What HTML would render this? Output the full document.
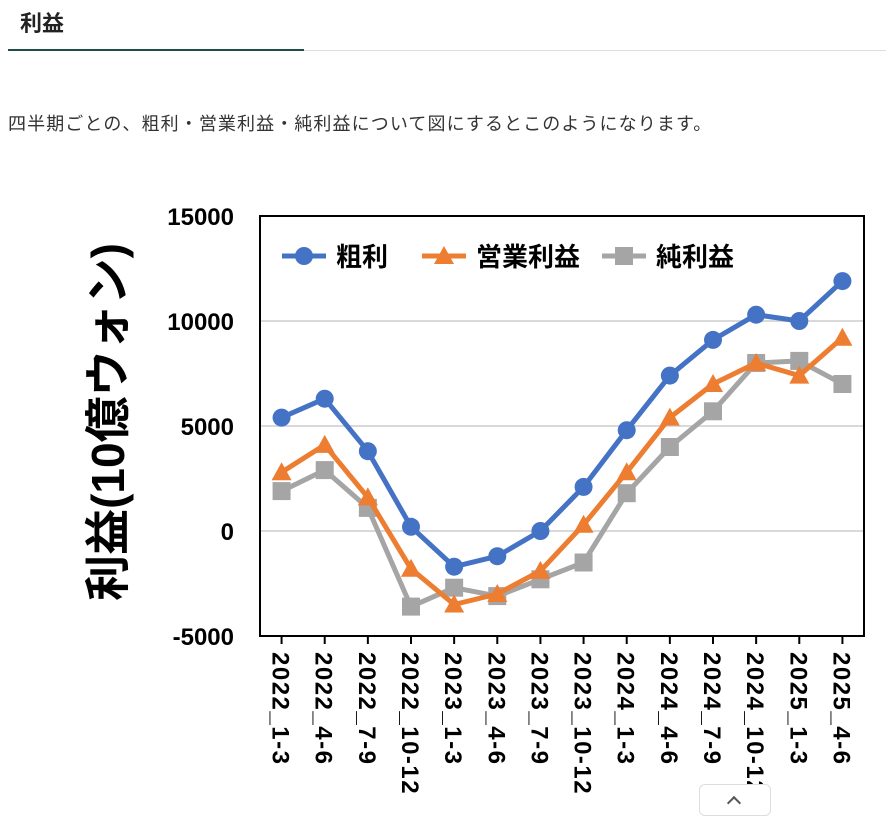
<!DOCTYPE html>
<html><head><meta charset="utf-8">
<style>
body{margin:0;width:886px;height:805px;overflow:hidden;background:#fff;font-family:"Liberation Sans","Noto Sans CJK JP",sans-serif;position:relative}
.h{position:absolute;left:20px;top:6px;font-size:22px;font-weight:bold;color:#222}
.ul{position:absolute;left:8px;top:49px;width:296px;height:2px;background:#1f4e4a}
.gl{position:absolute;left:304px;top:50px;width:582px;height:1px;background:#ddd}
.p{position:absolute;left:8px;top:110px;font-size:18px;letter-spacing:1.1px;color:#333}
.btn{position:absolute;left:699px;top:784px;width:70px;height:30px;border:1px solid #ddd;border-radius:6px;background:#fff}
</style></head><body>
<div class="h">利益</div>
<div class="ul"></div>
<div class="gl"></div>
<div class="p">四半期ごとの、粗利・営業利益・純利益について図にするとこのようになります。</div>
<svg id="chart" width="886" height="805" style="position:absolute;left:0;top:0"></svg>
<div class="btn"><div style="position:absolute;left:29px;top:13px;width:8px;height:8px;border-left:2px solid #555;border-top:2px solid #555;transform:rotate(45deg)"></div></div>
<script>
const categories=["2022_1-3","2022_4-6","2022_7-9","2022_10-12","2023_1-3","2023_4-6","2023_7-9","2023_10-12","2024_1-3","2024_4-6","2024_7-9","2024_10-12","2025_1-3","2025_4-6"];
const grossProfit=[5400,6300,3800,200,-1700,-1200,0,2100,4800,7400,9100,10300,10000,11900];
const operatingProfit=[2800,4100,1600,-1800,-3500,-3000,-1900,300,2800,5400,7000,8000,7400,9200];
const netProfit=[1900,2900,1100,-3600,-2700,-3100,-2300,-1500,1800,4000,5700,8000,8100,7000];
const yTicks=[-5000,0,5000,10000,15000];
const seriesNames=["粗利","営業利益","純利益"];
const NS="http://www.w3.org/2000/svg",svg=document.getElementById("chart");
const L=260,R=864,T=216,B=636,ymin=-5000,ymax=15000;
const x=i=>L+(R-L)/categories.length*(i+0.5);
const y=v=>B-(v-ymin)/(ymax-ymin)*(B-T);
function mk(t,a){const e=document.createElementNS(NS,t);for(const k in a)e.setAttribute(k,a[k]);svg.appendChild(e);return e;}
yTicks.forEach(v=>{if(v>ymin&&v<ymax){const g=mk("line",{x1:L,x2:R,y1:y(v),y2:y(v),stroke:"#d9d9d9","stroke-width":2});

}
const t=mk("text",{x:L-26,y:y(v)+9,"text-anchor":"end","font-size":24,"font-weight":"bold",fill:"#000"});t.textContent=v;

});
const fr=mk("rect",{x:L,y:T,width:R-L,height:B-T,fill:"none",stroke:"#000","stroke-width":2});


categories.forEach((c,i)=>{const tk=mk("line",{x1:x(i),x2:x(i),y1:B,y2:B+8,stroke:"#000","stroke-width":2});


const t=mk("text",{x:0,y:0,"font-size":24,"letter-spacing":"1.5","font-weight":"bold",fill:"#000",transform:`translate(${x(i)-9},${B+16}) rotate(90)`});t.textContent=c;

});
const yt=mk("text",{x:0,y:0,"font-size":46,"font-weight":"bold",fill:"#000","text-anchor":"middle",transform:"translate(124,422) rotate(-90)"});yt.textContent="利益(10億ウォン)";


function marker(type,cx,cy,col){let e;
if(type==0)e=mk("circle",{cx,cy,r:9,fill:col});
else if(type==1)e=mk("polygon",{points:`${cx},${cy-10} ${cx+10},${cy+8} ${cx-10},${cy+8}`,fill:col});
else e=mk("rect",{x:cx-9,y:cy-9,width:18,height:18,fill:col});return e;}
const series=[grossProfit,operatingProfit,netProfit],cols=["#4472c4","#ed7d31","#a5a5a5"];
[2,1,0].forEach(s=>{const d=series[s];
const pl=mk("polyline",{points:d.map((v,i)=>x(i)+","+y(v)).join(" "),fill:"none",stroke:cols[s],"stroke-width":5,"stroke-linejoin":"round"});


d.forEach((v,i)=>{const m=marker(s,x(i),y(v),cols[s]);

});});
const lx=[282,422,602];
seriesNames.forEach((n,s)=>{const ln=mk("line",{x1:lx[s],x2:lx[s]+44,y1:256,y2:256,stroke:cols[s],"stroke-width":5});


const m=marker(s,lx[s]+22,256,cols[s]);


const t=mk("text",{x:lx[s]+54,y:266,"font-size":26,"font-weight":"bold",fill:"#000"});t.textContent=n;

});
</script>
</body></html>
